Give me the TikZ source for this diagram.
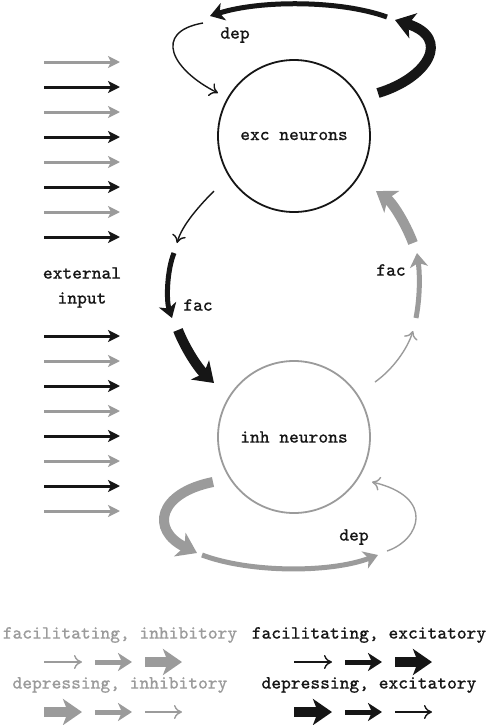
\documentclass[tikz,border=0pt]{standalone}
\usepackage{fontspec}
\usepackage{tikz}
\usetikzlibrary{arrows.meta}
\newfontfamily\lbltt{Latin Modern Mono}[FakeBold=0.6]
\definecolor{ExcInk}{HTML}{161616}
\definecolor{InhGray}{HTML}{9B9B9B}

\begin{document}
\begin{tikzpicture}[x=0.5pt,y=-0.5pt,
  lbl/.style={font=\fontsize{9.3}{11}\selectfont\lbltt,text=ExcInk},
  pop/.style={circle,line width=0.9pt,minimum size=76pt,inner sep=0pt,lbl},
  thinarr/.style={line width=0.7pt,-{To[length=4pt,width=7pt]}},
  medarr/.style={line width=2.5pt,-{Stealth[length=7pt,width=9pt,inset=2pt]}},
  thickarr/.style={line width=5pt,-{Stealth[length=9.5pt,width=13pt,inset=2.5pt]}},
  inarr/.style={line width=1.5pt,-{Stealth[length=6pt,width=6pt,inset=1.5pt]}}]
  \useasboundingbox (0,0) rectangle (490,725);

  \node[pop,draw=ExcInk] (exc) at (294,136) {exc neurons};
  \node[pop,draw=InhGray] (inh) at (294,437) {inh neurons};

  % exc -> exc, depressing
  \coordinate (xa0) at (378,93);  \coordinate (xa1) at (395,20);
  \coordinate (xb0) at (387,17);  \coordinate (xb1) at (210,16);
  \coordinate (xc0) at (203,23);  \coordinate (xc1) at (218,93);
  \draw[thickarr,ExcInk] (xa0) .. controls (428,78) and (452,38) .. (xa1);
  \draw[medarr,ExcInk] (xb0) .. controls (340,0) and (260,0) .. (xb1);
  \draw[thinarr,ExcInk] (xc0) .. controls (152,32) and (172,70) .. (xc1);
  \node[lbl] (excdep) at (235,35) {dep};

  % exc -> inh, facilitating
  \coordinate (ea0) at (214,191); \coordinate (ea1) at (177,243);
  \coordinate (eb0) at (174,253); \coordinate (eb1) at (172,318);
  \coordinate (ec0) at (178,330); \coordinate (ec1) at (214,383);
  \draw[thinarr,ExcInk] (ea0) .. controls (200,205) and (182,225) .. (ea1);
  \draw[medarr,ExcInk] (eb0) .. controls (167,270) and (166,300) .. (eb1);
  \draw[thickarr,ExcInk] (ec0) .. controls (185,348) and (198,368) .. (ec1);
  \node[lbl] (excfac) at (198,305) {fac};

  % inh -> exc, facilitating
  \coordinate (ia0) at (375,382); \coordinate (ia1) at (413,331);
  \coordinate (ib0) at (416,318); \coordinate (ib1) at (417,253);
  \coordinate (ic0) at (413,243); \coordinate (ic1) at (376,191);
  \draw[thinarr,InhGray] (ia0) .. controls (392,370) and (407,350) .. (ia1);
  \draw[medarr,InhGray] (ib0) .. controls (420,297) and (420,275) .. (ib1);
  \draw[thickarr,InhGray] (ic0) .. controls (405,222) and (392,202) .. (ic1);
  \node[lbl] (inhfac) at (391,270) {fac};

  % inh -> inh, depressing
  \coordinate (ha0) at (213,482); \coordinate (ha1) at (197,553);
  \coordinate (hb0) at (202,555); \coordinate (hb1) at (378,555);
  \coordinate (hc0) at (387,551); \coordinate (hc1) at (372,482);
  \draw[thickarr,InhGray] (ha0) .. controls (158,493) and (150,530) .. (ha1);
  \draw[medarr,InhGray] (hb0) .. controls (250,573) and (330,573) .. (hb1);
  \draw[thinarr,InhGray] (hc0) .. controls (420,540) and (436,497) .. (hc1);
  \node[lbl] (inhdep) at (354,537) {dep};

  % external input
  \foreach \k in {0,...,7}{
    \pgfmathsetmacro{\ya}{62+25*\k}
    \pgfmathsetmacro{\yb}{336+25*\k}
    \pgfmathtruncatemacro{\odd}{mod(\k,2)}
    \coordinate (ta\k) at (44,\ya);  \coordinate (tb\k) at (120,\ya);
    \coordinate (ba\k) at (44,\yb);  \coordinate (bb\k) at (120,\yb);
    \ifnum\odd=0
      \draw[inarr,InhGray] (ta\k) -- (tb\k);
      \draw[inarr,ExcInk] (ba\k) -- (bb\k);
    \else
      \draw[inarr,ExcInk] (ta\k) -- (tb\k);
      \draw[inarr,InhGray] (ba\k) -- (bb\k);
    \fi
  }
  \node[lbl] (ext1) at (82,273) {external};
  \node[lbl] (ext2) at (82,300) {input};

  % legend
  \node[lbl,text=InhGray] (lfi) at (120,635) {facilitating, inhibitory};
  \node[lbl] (lfe) at (369,635) {facilitating, excitatory};
  \node[lbl,text=InhGray] (ldi) at (120,685) {depressing, inhibitory};
  \node[lbl] (lde) at (369,685) {depressing, excitatory};
  \foreach \xa/\xb/\n in {44/82/1,95/132/2,145/182/3}{
    \coordinate (gf\n a) at (\xa,662); \coordinate (gf\n b) at (\xb,662);
    \coordinate (gd\n a) at (\xa,712); \coordinate (gd\n b) at (\xb,712);
    \coordinate (kf\n a) at (\xa+250,662); \coordinate (kf\n b) at (\xb+250,662);
    \coordinate (kd\n a) at (\xa+250,712); \coordinate (kd\n b) at (\xb+250,712);
  }
  \draw[thinarr,InhGray] (gf1a) -- (gf1b);
  \draw[medarr,InhGray] (gf2a) -- (gf2b);
  \draw[thickarr,InhGray] (gf3a) -- (gf3b);
  \draw[thickarr,InhGray] (gd1a) -- (gd1b);
  \draw[medarr,InhGray] (gd2a) -- (gd2b);
  \draw[thinarr,InhGray] (gd3a) -- (gd3b);
  \draw[thinarr,ExcInk] (kf1a) -- (kf1b);
  \draw[medarr,ExcInk] (kf2a) -- (kf2b);
  \draw[thickarr,ExcInk] (kf3a) -- (kf3b);
  \draw[thickarr,ExcInk] (kd1a) -- (kd1b);
  \draw[medarr,ExcInk] (kd2a) -- (kd2b);
  \draw[thinarr,ExcInk] (kd3a) -- (kd3b);
\end{tikzpicture}
\end{document}
